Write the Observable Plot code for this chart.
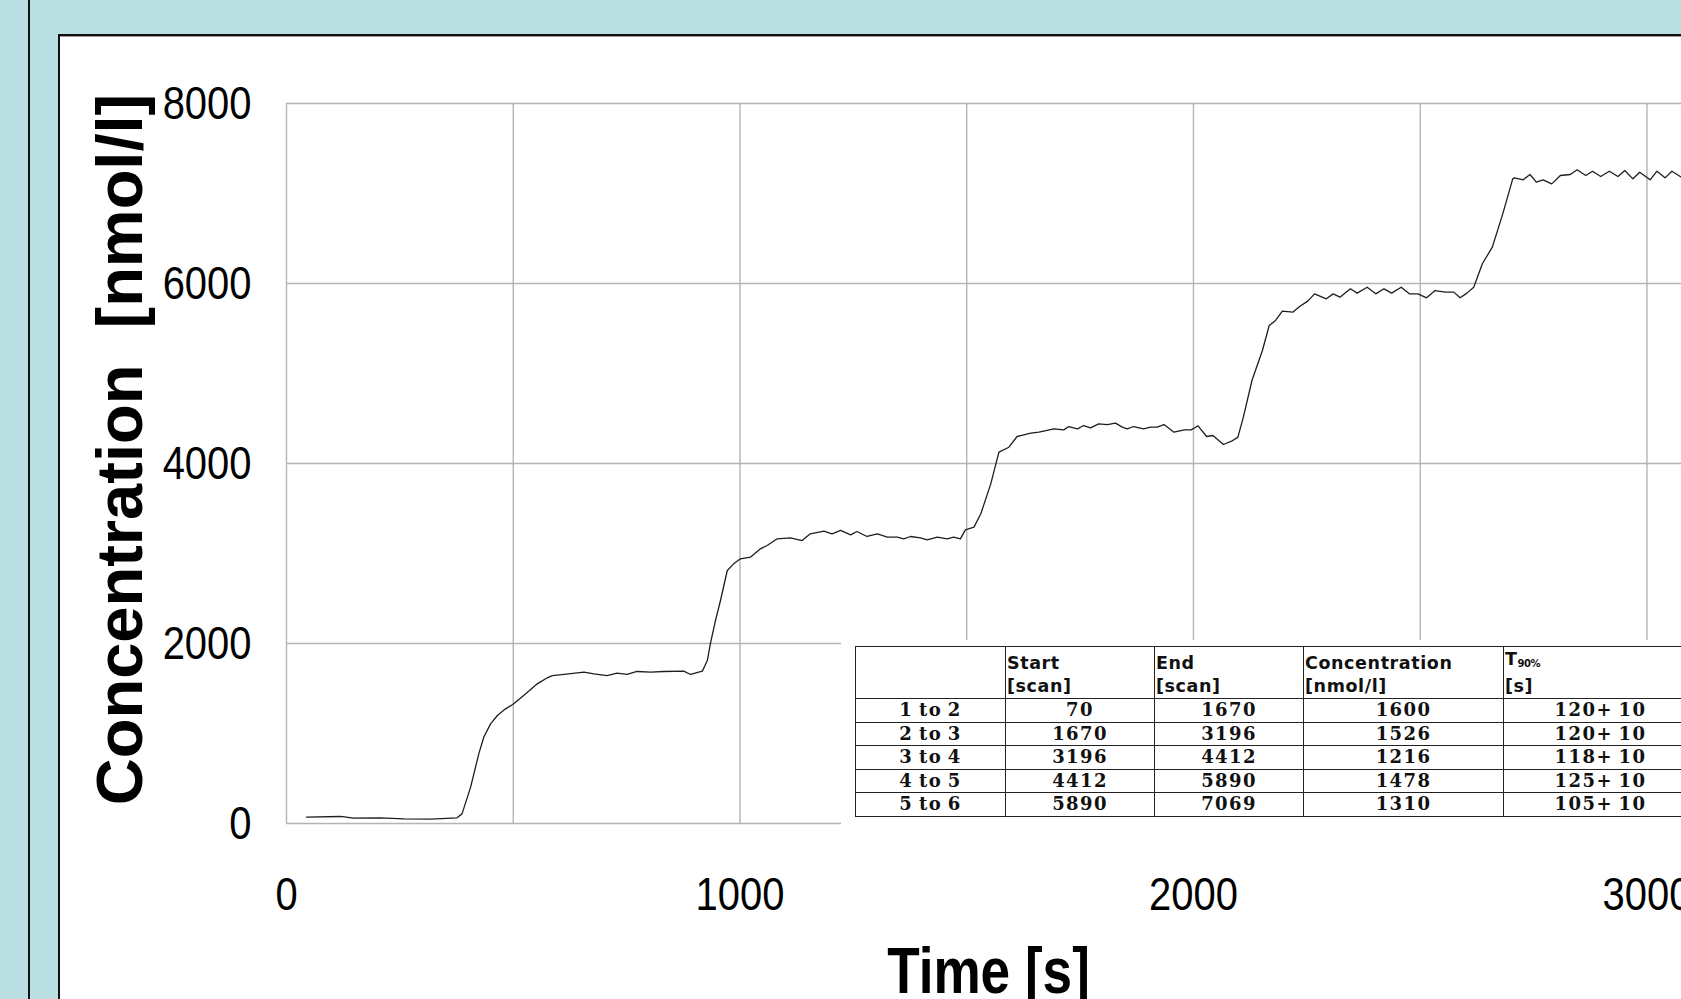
<!DOCTYPE html>
<html>
<head>
<meta charset="utf-8">
<script src="https://cdn.jsdelivr.net/npm/d3@7"></script>
<script src="https://cdn.jsdelivr.net/npm/@observablehq/plot@0.6"></script>
<style>
html, body { margin:0; padding:0; width:1681px; height:999px; overflow:hidden; background:#b9dfe3; }
#vline { position:absolute; left:28px; top:0; width:2px; height:999px; background:#111; }
#panel { position:absolute; left:58px; top:34px; width:1700px; height:1000px; background:#fff;
         border-left:2px solid #111; border-top:2px solid #111; box-shadow: 0 1px 0 #999 inset; }
#chart { position:absolute; left:0; top:0; }
#tablebox { position:absolute; left:841px; top:640px; width:900px; height:186px; background:#fff; }
#tablebox table { position:absolute; left:14px; top:6px; border-collapse:collapse; table-layout:fixed; color:#111; }
#tablebox td { border:1.5px solid #222; padding:0; font-family:"DejaVu Serif", serif; font-weight:bold;
               font-size:18px; text-align:center; height:22.5px; line-height:20px; letter-spacing:1.4px; word-spacing:-2px; }
#tablebox td.hd { font-family:"DejaVu Sans", sans-serif; font-size:17.5px; text-align:left; vertical-align:bottom;
                  height:51px; line-height:23px; letter-spacing:0.6px; word-spacing:0; padding-left:1px; }
#tablebox td.hd sub { font-size:10px; vertical-align:-2px; letter-spacing:-0.5px; }
</style>
</head>
<body>
<div id="vline"></div>
<div id="panel"></div>
<div id="chart"></div>
<div id="tablebox"></div>
<script>
// ---- measured curve (time in s, concentration in nmol/l) ----
const timeS = [
  44, 119, 148, 207, 259, 318, 376, 387, 406, 424, 435, 450, 465, 483, 499, 523, 553, 575,
  586, 612, 656, 678, 707, 729, 751, 773, 803, 832, 876, 891, 917, 928, 935, 946, 957, 972,
  986, 1001, 1023, 1045, 1060, 1082, 1111, 1137, 1155, 1185, 1203, 1222, 1244, 1258, 1280, 1303,
  1325, 1347, 1361, 1376, 1398, 1413, 1435, 1457, 1471, 1486, 1497, 1516, 1531, 1553, 1571, 1593,
  1611, 1619, 1641, 1659, 1677, 1692, 1714, 1725, 1744, 1758, 1773, 1791, 1810, 1828, 1843, 1854,
  1868, 1890, 1905, 1920, 1935, 1957, 1980, 1995, 2010, 2029, 2043, 2066, 2084, 2098, 2110, 2129,
  2152, 2167, 2181, 2196, 2219, 2234, 2252, 2267, 2293, 2308, 2323, 2346, 2361, 2383, 2402, 2420,
  2437, 2458, 2476, 2495, 2514, 2533, 2555, 2574, 2588, 2603, 2618, 2637, 2659, 2682, 2704, 2708,
  2727, 2742, 2756, 2771, 2790, 2809, 2831, 2846, 2865, 2880, 2898, 2917, 2936, 2951, 2969, 2984,
  3007, 3022, 3040, 3055, 3076, 3100
];
const concentration = [
  70, 78, 59, 63, 52, 48, 63, 107, 404, 774, 959, 1107, 1200, 1274, 1322, 1422, 1552, 1619,
  1644, 1656, 1681, 1663, 1644, 1670, 1656, 1689, 1681, 1689, 1693, 1656, 1693, 1811, 2004, 2256, 2478, 2811,
  2885, 2941, 2959, 3052, 3089, 3163, 3174, 3144, 3219, 3248, 3219, 3256, 3207, 3244, 3189, 3219,
  3181, 3181, 3163, 3189, 3174, 3152, 3181, 3163, 3181, 3163, 3263, 3293, 3441, 3774, 4126, 4181,
  4300, 4311, 4337, 4348, 4367, 4385, 4374, 4411, 4385, 4422, 4396, 4441, 4433, 4448, 4404, 4385,
  4411, 4385, 4404, 4404, 4433, 4348, 4374, 4374, 4419, 4300, 4311, 4211, 4248, 4293, 4515, 4922,
  5256, 5533, 5589, 5692, 5681, 5744, 5804, 5885, 5830, 5885, 5848, 5941, 5893, 5959, 5885, 5941,
  5893, 5959, 5885, 5885, 5841, 5922, 5904, 5904, 5841, 5893, 5959, 6219, 6404, 6774, 7163, 7174,
  7152, 7211, 7126, 7152, 7107, 7200, 7211, 7263, 7200, 7248, 7189, 7248, 7189, 7256, 7163, 7237,
  7152, 7248, 7174, 7248, 7181, 7200
];

// ---- axes ----
const yTicks = [0, 2000, 4000, 6000, 8000];
const xTickLabels = [0, 1000, 2000, 3000];
const xGrid = [0, 500, 1000, 1500, 2000, 2500, 3000];
const xTitle = "Time [s]";
const yTitle = "Concentration\u00a0\u00a0[nmol/l]";

// ---- inset table ----
const tableHeaders = ["", "Start|[scan]", "End|[scan]", "Concentration|[nmol/l]", "T90%|[s]"];
const transitions = ["1 to 2", "2 to 3", "3 to 4", "4 to 5", "5 to 6"];
const startScan = [70, 1670, 3196, 4412, 5890];
const endScan = [1670, 3196, 4412, 5890, 7069];
const stepConc = [1600, 1526, 1216, 1478, 1310];
const t90 = ["120+ 10", "120+ 10", "118+ 10", "125+ 10", "105+ 10"];

const data = timeS.map((t, i) => ({t, c: concentration[i]}));

const sans = "'Liberation Sans', Arial, sans-serif";

const chart = Plot.plot({
  width: 1700,
  height: 999,
  marginLeft: 286,
  marginRight: 10,
  marginTop: 103,
  marginBottom: 176,
  style: { background: "transparent", maxWidth: "none", fontFamily: sans, fontSize: "47px", color: "#000", overflow: "visible" },
  x: { domain: [0, 3096] },
  y: { domain: [0, 8000] },
  marks: [
    Plot.ruleX(xGrid, { stroke: "#b4b4b4", strokeWidth: 1.4 }),
    Plot.ruleY(yTicks, { stroke: "#b4b4b4", strokeWidth: 1.4 }),
    Plot.line(data, { x: "t", y: "c", stroke: "#1e1e1e", strokeWidth: 1.3 }),
    Plot.axisX(xTickLabels, { tickSize: 0, tickPadding: 53, label: null, tickFormat: d => String(d) }),
    Plot.axisY(yTicks, { tickSize: 0, tickPadding: 35, label: null, tickFormat: d => String(d) }),
    Plot.text([xTitle], { text: d => d, frameAnchor: "bottom", lineAnchor: "top", dy: 124,
      fontSize: 64, fontWeight: "bold" }),
    Plot.text([yTitle], { text: d => d, frameAnchor: "left", rotate: -90, dx: -165, dy: -14,
      textAnchor: "middle", lineAnchor: "middle",
      fontSize: 65, fontWeight: "bold" })
  ]
});
document.getElementById("chart").appendChild(chart);

// condense Arial-like text horizontally to imitate Arial Narrow
function narrowText(el, s) {
  const t = el.getAttribute("transform");
  if (t && t.includes("translate")) {
    el.setAttribute("transform", `${t} scale(${s},1)`);
  } else {
    const xa = el.getAttribute("x");
    const x = xa && !isNaN(+xa) ? +xa : 0;
    el.setAttribute("x", 0);
    el.setAttribute("transform", `${t || ""} translate(${x},0) scale(${s},1)`);
  }
}
chart.querySelectorAll('g[aria-label="x-axis tick label"] text, g[aria-label="y-axis tick label"] text')
  .forEach(el => narrowText(el, 0.85));
chart.querySelectorAll("text").forEach(el => { if (el.textContent === xTitle) narrowText(el, 0.83); });

// build table
const colW = [150, 149, 149, 200, 194];
const table = document.createElement("table");
const cg = document.createElement("colgroup");
colW.forEach(w => { const c = document.createElement("col"); c.style.width = w + "px"; cg.appendChild(c); });
table.appendChild(cg);
const hr = document.createElement("tr");
tableHeaders.forEach(h => {
  const td = document.createElement("td");
  td.className = "hd";
  if (h) {
    const [a, b] = h.split("|");
    const first = a === "T90%" ? "T<sub>90%</sub>" : a;
    td.innerHTML = first + "<br>" + b;
  }
  hr.appendChild(td);
});
table.appendChild(hr);
transitions.forEach((tr, i) => {
  const row = document.createElement("tr");
  [tr, startScan[i], endScan[i], stepConc[i], t90[i]].forEach(v => {
    const td = document.createElement("td");
    td.textContent = v;
    row.appendChild(td);
  });
  table.appendChild(row);
});
document.getElementById("tablebox").appendChild(table);
</script>
</body>
</html>
